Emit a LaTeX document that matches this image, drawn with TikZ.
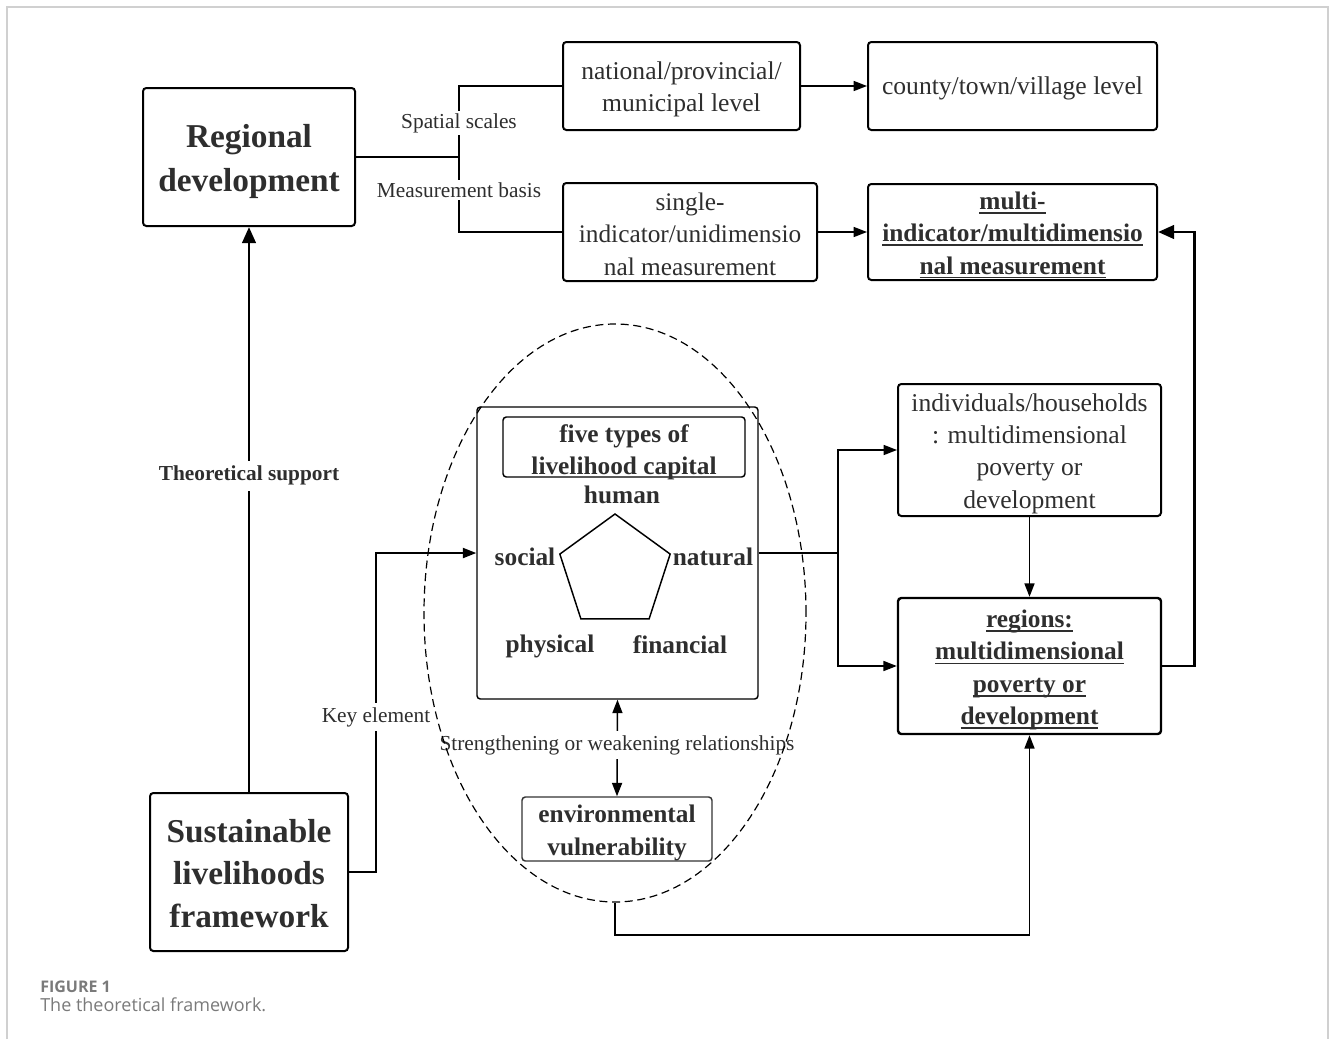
\documentclass[tikz,border=0pt]{standalone}
\usepackage{fontspec}
\setmainfont{Liberation Serif}
\newfontfamily\capfont{Open Sans}
\usetikzlibrary{arrows.meta,shapes.geometric}
\definecolor{txt}{HTML}{2E2E2E}
\definecolor{framegray}{HTML}{D0D0D0}
\definecolor{capgray}{HTML}{7A7A7A}
\newsavebox\myulbox
\newcommand\myul[1]{\sbox\myulbox{#1}\rlap{\vrule height -2pt depth 3.2pt width \wd\myulbox}\usebox\myulbox}
\tikzset{
  box/.style={draw=black, line width=1.5pt, rounded corners=2.5pt, inner sep=0pt},
  thinbox/.style={box, line width=1.1pt},
  sz/.style 2 args={minimum width=#1*0.75pt, minimum height=#2*0.75pt},
  tx/.style={inner sep=0pt, align=center, text=txt},
  big/.style={tx, font={\fontsize{25}{33}\selectfont\bfseries}},
  reg/.style={tx, font={\fontsize{19.2}{24.2}\selectfont}},
  bld/.style={tx, font={\fontsize{19}{24.3}\selectfont\bfseries}},
  lbl/.style={fill=white, inner sep=1.5pt, text=txt, font={\fontsize{16}{19}\selectfont}},
  line/.style={line width=1.4pt, draw=black},
  conn/.style={line width=1.1pt, draw=black, -{Triangle[length=10pt,width=7.5pt]}},
  thk/.style={line width=2.2pt, draw=black, -{Triangle[length=12pt,width=10pt]}},
}
\begin{document}
\begin{tikzpicture}[x=0.75pt,y=-0.75pt]
\useasboundingbox (0,0) rectangle (1331,1039);
% outer frame
\draw[framegray, line width=1.2pt] (7,1039) -- (7,7) -- (1328,7) -- (1328,1039);

% boxes
\node[box, sz={212}{138}] (reg) at (249,157) {};
\node[big] (regt) at (249,161) {Regional\\development};
\node[box, sz={237}{88}] (nat) at (681.5,86) {};
\node[reg] (natt) at (681.5,89) {national/provincial/\\municipal level};
\node[box, sz={289}{88}] (cty) at (1012.5,86) {};
\node[reg] (ctyt) at (1012.5,88.5) {county/town/village level};
\node[box, sz={254}{98}] (sgl) at (690,232) {};
\node[reg, font={\fontsize{19}{24.5}\selectfont}] (sglt) at (690,234) {single-\\indicator/unidimensio\\nal measurement};
\node[box, sz={289}{96}] (mlt) at (1012.5,232) {};
\node[bld] (mltt) at (1012.5,235) {\myul{multi-}\\\myul{indicator/multidimensio}\\\myul{nal measurement}};

\node[thinbox, sz={281}{292}] (cbox) at (617.5,553) {};
\node[thinbox, sz={242}{60}] (ttl) at (624,447) {};
\node[bld] (ttltxt) at (624,452) {five types of\\livelihood capital};
\node[draw=black, line width=1.1pt, regular polygon, regular polygon sides=5, minimum size=87pt, inner sep=0pt] (pent) at (615,572) {};
\node[bld] (hum) at (622,495) {human};
\node[bld] (soc) at (525,557) {social};
\node[bld] (nat2) at (713,557) {natural};
\node[bld] (phy) at (550,646) {physical};
\node[bld] (fin) at (680,645) {financial};

\node[thinbox, sz={190}{64}, draw=black!80] (env) at (617,829) {};
\node[bld] (envtxt) at (617,833) {environmental\\vulnerability};

\node[box, sz={263}{132}] (ind) at (1029.5,450) {};
\node[reg] (indt) at (1029.5,453.5) {individuals/households\\: multidimensional\\poverty or\\development};
\node[box, sz={263}{136}, line width=1.8pt] (rgn) at (1029.5,666) {};
\node[bld] (rgnt) at (1029.5,670) {\myul{regions:}\\\myul{multidimensional}\\\myul{poverty or}\\\myul{development}};

\node[box, sz={198}{158}] (sus) at (249,872) {};
\node[big, font={\fontsize{25}{31.7}\selectfont\bfseries}] (sust) at (249,873.5) {Sustainable\\livelihoods\\framework};

% connectors top
\coordinate (br) at (459,157);
\coordinate (brt) at (459,86);
\coordinate (brb) at (459,232);
\draw[line] (reg.east) -- (br);
\draw[line] (nat.west) -- (brt) -- (brb) -- (sgl.west);
\node[lbl] (sp) at (459,123) {Spatial scales};
\node[lbl] (mb) at (459,190) {Measurement basis};
\draw[conn] (nat.east) -- (cty.west);
\draw[conn] (sgl.east) -- (mlt.west);
\draw[thk] (rgn.east) -- ++(32,0) |- (mlt.east);

% theoretical support
\draw[thk] (sus.north) -- (reg.south) node[pos=0.56, lbl, inner ysep=4pt, font={\fontsize{16}{19}\selectfont\bfseries}] {Theoretical support};

% key element
\coordinate (ke) at (376,872);
\draw[conn, line width=1.4pt] (sus.east) -- (ke) |- (cbox.west);
\node[lbl, inner ysep=3pt] (kel) at (376,717) {Key element};

% to the right
\coordinate (sp2) at (838,553);
\draw[line width=1.1pt] (cbox.east) -- (sp2);
\draw[conn] (sp2) |- (ind.west);
\draw[conn] (sp2) |- (rgn.west);
\draw[conn] (ind.south) -- (rgn.north);

% strengthening
\draw[line width=1.1pt, {Triangle[length=10pt,width=7.5pt]}-{Triangle[length=10pt,width=7.5pt]}] (cbox.south) -- (env.north);
\node[lbl, inner ysep=3pt] (str) at (617,745) {Strengthening or weakening relationships};

% ellipse
\node[draw=black, dashed, dash pattern=on 6pt off 3.5pt, line width=0.9pt, ellipse, minimum width=382*0.75pt, minimum height=578*0.75pt, inner sep=0pt] (ell) at (615,613) {};
\draw[conn] (ell.south) -- (615,935) -| (rgn.south);

% caption
\node[anchor=base west, inner sep=0pt, text=capgray, font={\capfont\bfseries\fontsize{12}{14}\selectfont}] (fig) at (40,992) {FIGURE 1};
\node[anchor=base west, inner sep=0pt, text=capgray, font={\capfont\fontsize{13.5}{16}\selectfont}] (cap) at (40,1011) {The theoretical framework.};
\end{tikzpicture}
\end{document}
